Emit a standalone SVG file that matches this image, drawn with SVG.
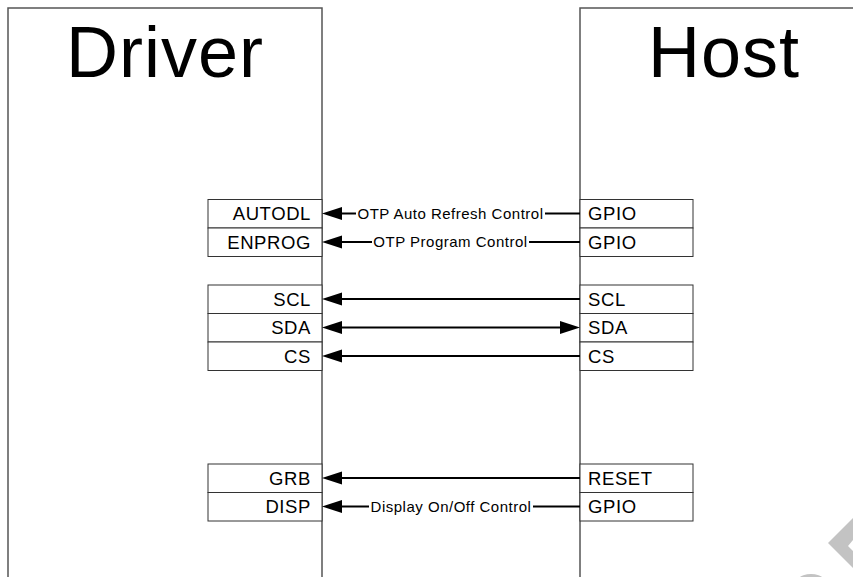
<svg xmlns="http://www.w3.org/2000/svg" width="853" height="577" viewBox="0 0 853 577">
<defs>
<style>
.blk{fill:none;stroke:#555;stroke-width:1.5}
.pin{fill:#fff;stroke:#333;stroke-width:1}
.title{font-family:"Liberation Sans",Arial,sans-serif;font-size:72px;fill:#000;letter-spacing:1px}
.pl{font-family:"Liberation Sans",Arial,sans-serif;font-size:18.5px;fill:#000;letter-spacing:0.6px}
.cl{font-family:"Liberation Sans",Arial,sans-serif;font-size:15px;fill:#000;letter-spacing:0.5px;text-anchor:middle}
.wire{stroke:#000;stroke-width:2;fill:none}
.bg{fill:#fff}
.wm{fill:#c3c3c3}
</style>
<marker id="ah" markerUnits="userSpaceOnUse" markerWidth="20" markerHeight="14" viewBox="0 -7 20 14" refX="10" refY="0" orient="auto-start-reverse">
<path d="M0,-6.5 L20,0 L0,6.5 z" fill="#000"/>
</marker>
</defs>
<rect width="853" height="577" fill="#fff"/>
<g id="driver">
<path class="blk" d="M8,580 V8 H322 V580"/>
<text class="title" x="165" y="77" text-anchor="middle">Driver</text>
</g>
<g id="host">
<path class="blk" d="M580,580 V8 H860"/>
<text class="title" x="724" y="77" text-anchor="middle">Host</text>
</g>
<g id="d-autodl"><rect class="pin" x="208" y="199.5" width="114" height="28.5"/><text class="pl" x="311" y="220" text-anchor="end">AUTODL</text></g>
<g id="d-enprog"><rect class="pin" x="208" y="228" width="114" height="28.5"/><text class="pl" x="311" y="248.5" text-anchor="end">ENPROG</text></g>
<g id="d-scl"><rect class="pin" x="208" y="285" width="114" height="28.5"/><text class="pl" x="311" y="305.5" text-anchor="end">SCL</text></g>
<g id="d-sda"><rect class="pin" x="208" y="313.5" width="114" height="28.5"/><text class="pl" x="311" y="334" text-anchor="end">SDA</text></g>
<g id="d-cs"><rect class="pin" x="208" y="342" width="114" height="28.5"/><text class="pl" x="311" y="362.5" text-anchor="end">CS</text></g>
<g id="d-grb"><rect class="pin" x="208" y="464" width="114" height="28.5"/><text class="pl" x="311" y="484.5" text-anchor="end">GRB</text></g>
<g id="d-disp"><rect class="pin" x="208" y="492.5" width="114" height="28.5"/><text class="pl" x="311" y="513" text-anchor="end">DISP</text></g>
<g id="h-gpio1"><rect class="pin" x="580" y="199.5" width="113" height="28.5"/><text class="pl" x="588" y="220">GPIO</text></g>
<g id="h-gpio2"><rect class="pin" x="580" y="228" width="113" height="28.5"/><text class="pl" x="588" y="248.5">GPIO</text></g>
<g id="h-scl"><rect class="pin" x="580" y="285" width="113" height="28.5"/><text class="pl" x="588" y="305.5">SCL</text></g>
<g id="h-sda"><rect class="pin" x="580" y="313.5" width="113" height="28.5"/><text class="pl" x="588" y="334">SDA</text></g>
<g id="h-cs"><rect class="pin" x="580" y="342" width="113" height="28.5"/><text class="pl" x="588" y="362.5">CS</text></g>
<g id="h-reset"><rect class="pin" x="580" y="464" width="113" height="28.5"/><text class="pl" x="588" y="484.5">RESET</text></g>
<g id="h-gpio3"><rect class="pin" x="580" y="492.5" width="113" height="28.5"/><text class="pl" x="588" y="513">GPIO</text></g>
<g id="connectors">
<line class="wire" x1="580" y1="213.5" x2="332" y2="213.5" marker-end="url(#ah)"/>
<rect class="bg" x="356" y="204" width="189" height="19"/>
<text class="cl" x="450.5" y="218.8">OTP Auto Refresh Control</text>
<line class="wire" x1="580" y1="242" x2="332" y2="242" marker-end="url(#ah)"/>
<rect class="bg" x="372" y="233" width="157" height="19"/>
<text class="cl" x="450.5" y="247.3">OTP Program Control</text>
<line class="wire" x1="580" y1="299" x2="332" y2="299" marker-end="url(#ah)"/>
<line class="wire" x1="332" y1="327.5" x2="570" y2="327.5" marker-start="url(#ah)" marker-end="url(#ah)"/>
<line class="wire" x1="580" y1="356" x2="332" y2="356" marker-end="url(#ah)"/>
<line class="wire" x1="580" y1="478" x2="332" y2="478" marker-end="url(#ah)"/>
<line class="wire" x1="580" y1="506.5" x2="332" y2="506.5" marker-end="url(#ah)"/>
<rect class="bg" x="369" y="497" width="164" height="19"/>
<text class="cl" x="451" y="511.8">Display On/Off Control</text>
</g>
<g id="watermark">
<polygon class="wm" points="828,543 853,518 853,540 848,546 853,551 853,568"/>
<ellipse class="wm" cx="811" cy="592" rx="20" ry="18"/>
</g>
</svg>
